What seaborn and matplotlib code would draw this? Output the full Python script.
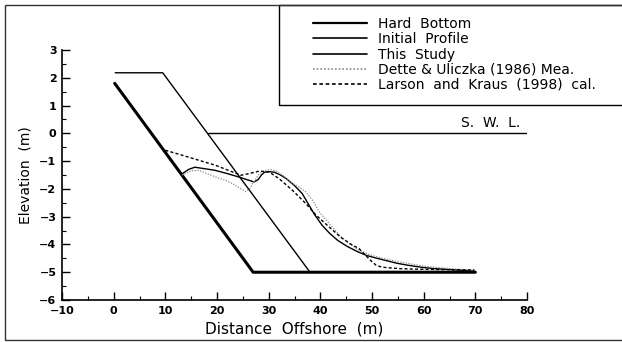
import numpy as np
import pandas as pd
import matplotlib
matplotlib.use("Agg")
import matplotlib.pyplot as plt
from matplotlib.patches import Rectangle
import seaborn as sns

# profile data (distance offshore m, elevation m)
hard_x = [0.2, 27.0, 70.0]
hard_y = [1.8, -5.0, -5.0]

init_x = [0.3, 9.5, 38.0, 70.0]
init_y = [2.18, 2.18, -5.0, -5.0]

swl_x = [18.3, 80.0]
swl_y = [0.0, 0.0]

study_x = [13.3, 14.5, 15.7, 17.5, 19.6, 22.0, 24.2, 26.0, 27.2, 28.0, 28.6, 29.2, 30.2, 31.1,
           32.3, 33.4, 35.0, 36.5, 37.7, 38.8, 40.3, 41.8, 43.4, 45.3, 47.2, 49.0, 51.0, 52.5,
           54.9, 57.0, 59.5, 62.0, 64.8, 67.5, 69.8]
study_y = [-1.45, -1.3, -1.22, -1.27, -1.33, -1.45, -1.57, -1.68, -1.75, -1.66, -1.5, -1.4, -1.38,
           -1.4, -1.5, -1.63, -1.88, -2.17, -2.55, -2.9, -3.3, -3.6, -3.86, -4.08, -4.26, -4.4,
           -4.5, -4.57, -4.68, -4.75, -4.82, -4.87, -4.9, -4.93, -4.96]

dette_x = [13.2, 13.9, 15.0, 16.5, 18.0, 19.7, 21.5, 23.0, 24.5, 25.6, 26.3, 26.9, 28.2, 29.5,
           30.3, 31.4, 33.0, 34.6, 36.0, 37.2, 38.5, 39.8, 41.7, 43.7, 45.5, 47.2, 49.0, 51.0,
           55.0, 60.0, 65.0, 70.0]
dette_y = [-1.5, -1.45, -1.35, -1.33, -1.45, -1.57, -1.68, -1.81, -1.98, -2.1, -2.0, -1.81,
           -1.45, -1.33, -1.3, -1.35, -1.55, -1.8, -1.95, -2.11, -2.41, -2.83, -3.24, -3.67,
           -3.95, -4.18, -4.33, -4.45, -4.62, -4.78, -4.87, -4.93]

larson_x = [10.0, 13.3, 16.5, 19.7, 23.0, 24.6, 26.2, 28.2, 30.1, 32.0, 34.6, 37.2, 39.2, 41.7,
            44.0, 46.0, 47.5, 48.9, 50.0, 50.8, 52.0, 55.3, 58.7, 61.8, 65.0, 69.8]
larson_y = [-0.61, -0.79, -0.97, -1.15, -1.39, -1.51, -1.45, -1.36, -1.39, -1.63, -2.05, -2.53,
            -2.95, -3.37, -3.75, -4.0, -4.15, -4.42, -4.62, -4.75, -4.82, -4.87, -4.89, -4.9,
            -4.91, -4.92]

labels = ["Hard  Bottom", "Initial  Profile", "This  Study",
          "Dette & Uliczka (1986) Mea.", "Larson  and  Kraus  (1998)  cal."]

sns.set_style("ticks")
plt.rcParams['font.family'] = ['DejaVu Sans']
plt.rcParams.update({"text.color": "black", "axes.labelcolor": "black",
                     "xtick.color": "black", "ytick.color": "black",
                     "axes.edgecolor": "black"})

fig = plt.figure(figsize=(6.22, 3.42), dpi=100)
ax = fig.add_axes([62 / 622, 1 - 300 / 342, (527 - 62) / 622, (300 - 50) / 342])

df_hard = pd.DataFrame({"x": hard_x, "y": hard_y})
df_init = pd.DataFrame({"x": init_x, "y": init_y})
df_study = pd.DataFrame({"x": study_x, "y": study_y})
df_dette = pd.DataFrame({"x": dette_x, "y": dette_y})
df_larson = pd.DataFrame({"x": larson_x, "y": larson_y})

sns.lineplot(data=df_init, x="x", y="y", sort=False, color="black", lw=1.0, ax=ax, label=labels[1])
sns.lineplot(data=df_hard, x="x", y="y", sort=False, color="black", lw=2.2, ax=ax, label=labels[0])
sns.lineplot(data=df_study, x="x", y="y", sort=False, color="black", lw=1.0, ax=ax, label=labels[2])
sns.lineplot(data=df_dette, x="x", y="y", sort=False, color="#8a8a8a", lw=0.9, ax=ax,
             label=labels[3], linestyle=(0, (1, 1.2)))
sns.lineplot(data=df_larson, x="x", y="y", sort=False, color="black", lw=1.0, ax=ax,
             label=labels[4], linestyle=(0, (2.2, 1.6)))
ax.plot(swl_x, swl_y, color="black", lw=1.0)
ax.text(78.6, 0.12, "S.  W.  L.", ha="right", va="bottom", fontsize=10)

ax.set_xlim(-10, 80)
ax.set_ylim(-6, 3)
ax.set_xticks(np.arange(-10, 81, 10))
ax.set_yticks(np.arange(-6, 4, 1))
ax.set_xticks(np.arange(-5, 80, 10), minor=True)
ax.set_yticks(np.arange(-5.5, 3, 1), minor=True)
ax.tick_params(which="major", direction="in", length=6, width=1, labelsize=8, pad=4)
ax.tick_params(which="minor", direction="in", length=3, width=0.8)
for t in ax.get_xticklabels() + ax.get_yticklabels():
    t.set_fontweight("bold")
ax.spines["top"].set_visible(False)
ax.spines["right"].set_visible(False)
ax.spines["left"].set_linewidth(1.2)
ax.spines["bottom"].set_linewidth(1.2)
ax.set_xlabel("Distance  Offshore  (m)", fontsize=11, labelpad=4)
ax.set_ylabel("Elevation  (m)", fontsize=10, labelpad=5)
ax.patch.set_alpha(0)

handles, labs = ax.get_legend_handles_labels()
order = [labs.index(l) for l in labels]
ax.get_legend().remove()
leg = fig.legend([handles[i] for i in order], [labs[i] for i in order],
                 loc="upper left", bbox_to_anchor=(313 / 622, 1 - 17 / 342),
                 fontsize=10, frameon=False, handlelength=3.9, handletextpad=0.8,
                 labelspacing=0.09, borderpad=0, borderaxespad=0)
for ln in leg.get_lines():
    ln.set_linewidth(1.2)
leg.get_lines()[0].set_linewidth(1.6)

# legend frame and outer page frame
fig.patches.append(Rectangle((279 / 622, 1 - 105 / 342), 0.6, 100 / 342, transform=fig.transFigure,
                             fill=False, edgecolor="black", lw=1.0))
fig.patches.append(Rectangle((5 / 622, 2 / 342), 1.2, 1 - 7 / 342, transform=fig.transFigure,
                             fill=False, edgecolor="#333333", lw=1.0))

fig.savefig("out.png", dpi=100)
